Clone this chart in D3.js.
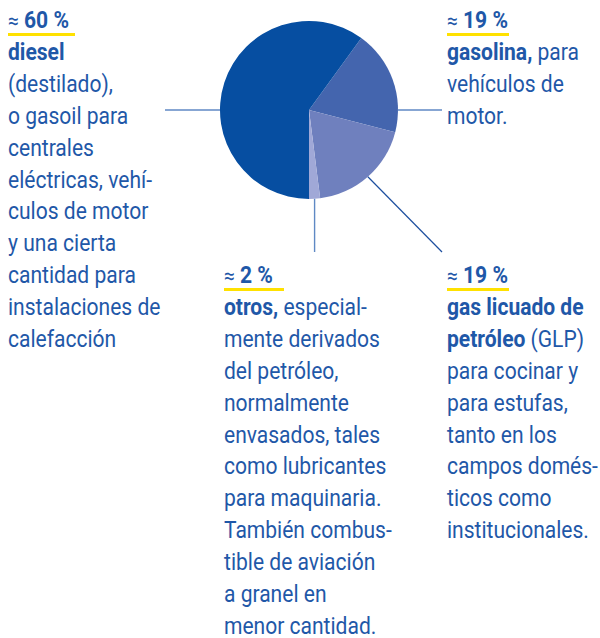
<!doctype html>
<html lang="es">
<head>
<meta charset="utf-8">
<script src="https://d3js.org/d3.v7.min.js"></script>
<style>
  body { margin: 0; background: #fff; }
  text { font-family: Roboto, "Noto Sans", sans-serif; }
</style>
</head>
<body>
<svg id="svg1" width="600" height="638"></svg>
<script>
// slices, clockwise from the top-right
const fuels   = ["gasolina", "gas licuado de petróleo", "otros", "diesel"];
const shares  = [19, 19, 2, 60];
const colours = ["#4465ae", "#6f80be", "#a0a8d7", "#064ea1"];

// text blocks: [text, bold] pieces per line
const blockDiesel = [
  [["diesel", true]],
  [["(destilado),", false]],
  [["o gasoil para", false]],
  [["centrales", false]],
  [["eléctricas, vehí-", false]],
  [["culos de motor", false]],
  [["y una cierta", false]],
  [["cantidad para", false]],
  [["instalaciones de", false]],
  [["calefacción", false]]
];
const blockGasolina = [
  [["gasolina,", true], [" para", false]],
  [["vehículos de", false]],
  [["motor.", false]]
];
const blockOtros = [
  [["otros,", true], [" especial-", false]],
  [["mente derivados", false]],
  [["del petróleo,", false]],
  [["normalmente", false]],
  [["envasados, tales", false]],
  [["como lubricantes", false]],
  [["para maquinaria.", false]],
  [["También combus-", false]],
  [["tible de aviación", false]],
  [["a granel en", false]],
  [["menor cantidad.", false]]
];
const blockGlp = [
  [["gas licuado de", true]],
  [["petróleo", true], [" (GLP)", false]],
  [["para cocinar y", false]],
  [["para estufas,", false]],
  [["tanto en los", false]],
  [["campos domés-", false]],
  [["ticos como", false]],
  [["institucionales.", false]]
];

const textBlue = "#1f58a8";
const fs = 23;
const squeeze = 0.915;
const lh = 31.9;

const svg = d3.select("#svg1");
const cx = 309, cy = 110, r = 89;

// otros must end at 6 o'clock: the first 40 % lie before PI
const before = d3.sum(shares.slice(0, 3)) / d3.sum(shares) * 2 * Math.PI;
const pie = d3.pie().sort(null).value(d => d)
  .startAngle(Math.PI - before).endAngle(3 * Math.PI - before);
const arcs = pie(shares);
const arc = d3.arc().innerRadius(0).outerRadius(r);

const g = svg.append("g").attr("transform", `translate(${cx},${cy})`);
g.selectAll("path").data(arcs).join("path")
  .attr("d", arc)
  .attr("fill", (d, i) => colours[i]);

// leader lines
const lineLight = "#5f89c4";
const lineDark = "#1d4f9f";
g.append("line").attr("x1", -r).attr("y1", 0).attr("x2", -144).attr("y2", 0)
  .attr("stroke", lineLight).attr("stroke-width", 1.4);
g.append("line").attr("x1", r).attr("y1", 0).attr("x2", 133).attr("y2", 0)
  .attr("stroke", lineLight).attr("stroke-width", 1.4);
const midOtros = (arcs[2].startAngle + arcs[2].endAngle) / 2;
const ox = Math.sin(midOtros) * r, oy = -Math.cos(midOtros) * r;
g.append("line").attr("x1", ox).attr("y1", oy).attr("x2", ox).attr("y2", 142)
  .attr("stroke", lineLight).attr("stroke-width", 1.4);
const midGlp = (arcs[1].startAngle + arcs[1].endAngle) / 2;
g.append("line")
  .attr("x1", Math.sin(midGlp) * r).attr("y1", -Math.cos(midGlp) * r)
  .attr("x2", 133).attr("y2", 142)
  .attr("stroke", lineDark).attr("stroke-width", 1.2);

function drawBlock(x, y0, pct, lines, ulWidth) {
  const b = svg.append("g");
  b.append("rect").attr("x", x).attr("y", y0 + 4.5).attr("width", ulWidth).attr("height", 3)
    .attr("fill", "#ffe100");
  const tg = b.append("g").attr("transform", `translate(${x},0) scale(${squeeze},1)`);
  const head = tg.append("text").attr("x", 0).attr("y", y0)
    .attr("fill", textBlue).attr("font-size", fs);
  head.append("tspan").attr("font-size", 21).text("≈");
  head.append("tspan").attr("font-weight", "bold").text(" " + pct + " %");
  lines.forEach((ln, i) => {
    const t = tg.append("text").attr("x", 0).attr("y", y0 + 31.5 + i * lh)
      .attr("fill", textBlue).attr("font-size", fs);
    ln.forEach(([s, bold]) => {
      t.append("tspan").attr("font-weight", bold ? "bold" : "normal").text(s);
    });
  });
}

drawBlock(8, 28.5, shares[3], blockDiesel, 67);
drawBlock(447, 28.5, shares[0], blockGasolina, 62);
drawBlock(224, 283.5, shares[2], blockOtros, 60);
drawBlock(447, 283.5, shares[1], blockGlp, 62);
</script>
</body>
</html>
